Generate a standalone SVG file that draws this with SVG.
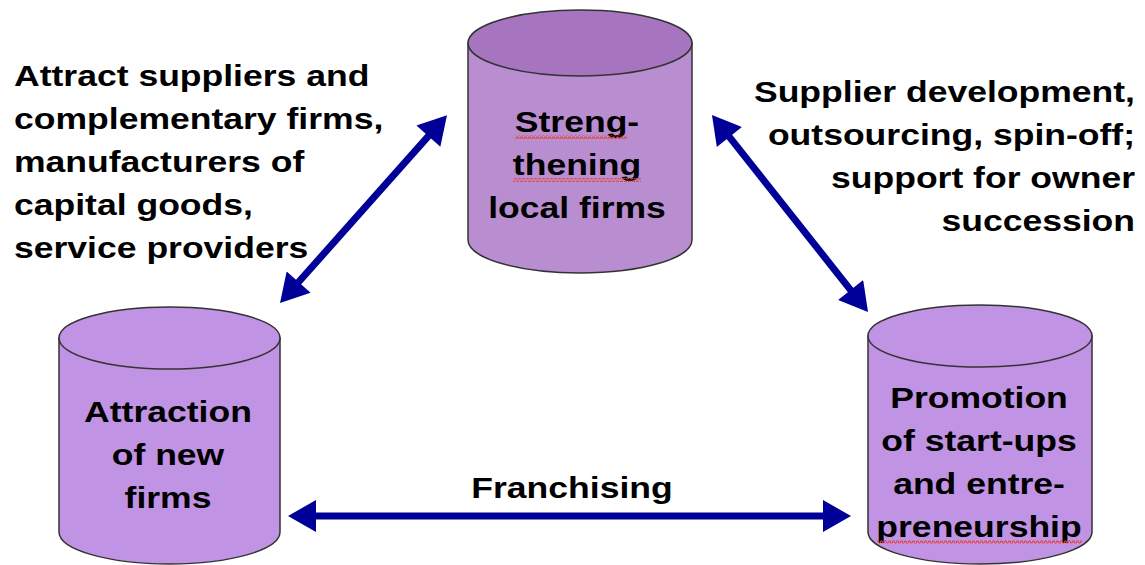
<svg xmlns="http://www.w3.org/2000/svg" width="1145" height="565" viewBox="0 0 1145 565">
  <style>
    .lbl { font-family: "Liberation Sans", Arial, sans-serif; font-weight: bold; font-size: 30px; fill: #000; }
    .mid { text-anchor: middle; }
    .end { text-anchor: end; }
    .cyl { stroke: #333; stroke-width: 1.5; }
    .link { stroke: #000099; stroke-width: 7; fill: none; marker-start: url(#head); marker-end: url(#head); }
  </style>
  <defs>
    <marker id="head" markerUnits="userSpaceOnUse" markerWidth="30" markerHeight="32" viewBox="0 0 28 32" refX="8" refY="16" orient="auto-start-reverse">
      <path d="M0,0 L28,16 L0,32 z" fill="#000099"/>
    </marker>
    <!-- red wavy underline -->
    <pattern id="wave" patternUnits="userSpaceOnUse" width="4" height="4">
      <path d="M0,3 L1,1 L2,1 L3,3 L4,3" stroke="#e2463c" stroke-width="1.2" fill="none"/>
    </pattern>
  </defs>
  <rect width="1145" height="565" fill="#fff"/>

  <!-- connectors -->
  <g id="connectors">
    <line class="link" x1="293.3" y1="288.0" x2="433.7" y2="130.1"/>
    <line class="link" x1="724.4" y1="130.7" x2="855.6" y2="296.3"/>
    <line class="link" x1="308" y1="516" x2="831" y2="516"/>
  </g>

  <!-- connector labels -->
  <g id="label-attract" transform="translate(14 0) scale(1.185 1)">
    <text class="lbl" x="0" y="86">Attract suppliers and</text>
    <text class="lbl" x="0" y="129">complementary firms,</text>
    <text class="lbl" x="0" y="172">manufacturers of</text>
    <text class="lbl" x="0" y="215">capital goods,</text>
    <text class="lbl" x="0" y="258">service providers</text>
  </g>
  <g id="label-supplier" transform="translate(1135 0) scale(1.185 1)">
    <text class="lbl end" x="0" y="102">Supplier development,</text>
    <text class="lbl end" x="0" y="145">outsourcing, spin-off;</text>
    <text class="lbl end" x="0" y="188">support for owner</text>
    <text class="lbl end" x="0" y="231">succession</text>
  </g>
  <g id="label-franchising" transform="translate(572 0) scale(1.185 1)">
    <text class="lbl mid" x="0" y="498">Franchising</text>
  </g>

  <!-- node: strengthening local firms -->
  <g id="node-strengthening">
    <path class="cyl" d="M468,43 V240 A112,33 0 0 0 692,240 V43 Z" fill="#b98ed1"/>
    <ellipse class="cyl" cx="580" cy="43" rx="112" ry="33" fill="#a775bf"/>
    <g transform="translate(577 0) scale(1.185 1)">
      <text class="lbl mid" x="0" y="132">Streng-</text>
      <text class="lbl mid" x="0" y="175">thening</text>
      <text class="lbl mid" x="0" y="218">local firms</text>
    </g>
    <rect x="515" y="135" width="112" height="4" fill="url(#wave)"/>
    <rect x="513" y="178" width="128" height="4" fill="url(#wave)"/>
  </g>

  <!-- node: attraction of new firms -->
  <g id="node-attraction">
    <path class="cyl" d="M59,338 V532 A110.5,32 0 0 0 280,532 V338 Z" fill="#c093e4"/>
    <ellipse class="cyl" cx="169.5" cy="338" rx="110.5" ry="31" fill="#c093e4"/>
    <g transform="translate(168 0) scale(1.185 1)">
      <text class="lbl mid" x="0" y="422">Attraction</text>
      <text class="lbl mid" x="0" y="465">of new</text>
      <text class="lbl mid" x="0" y="508">firms</text>
    </g>
  </g>

  <!-- node: promotion of start-ups -->
  <g id="node-promotion">
    <path class="cyl" d="M868,336 V532 A112,32 0 0 0 1092,532 V336 Z" fill="#c093e4"/>
    <ellipse class="cyl" cx="980" cy="336" rx="112" ry="31" fill="#c093e4"/>
    <g transform="translate(979 0) scale(1.185 1)">
      <text class="lbl mid" x="0" y="408">Promotion</text>
      <text class="lbl mid" x="0" y="451">of start-ups</text>
      <text class="lbl mid" x="0" y="494">and entre-</text>
      <text class="lbl mid" x="0" y="537">preneurship</text>
    </g>
    <rect x="877" y="540" width="205" height="4" fill="url(#wave)"/>
  </g>
</svg>
